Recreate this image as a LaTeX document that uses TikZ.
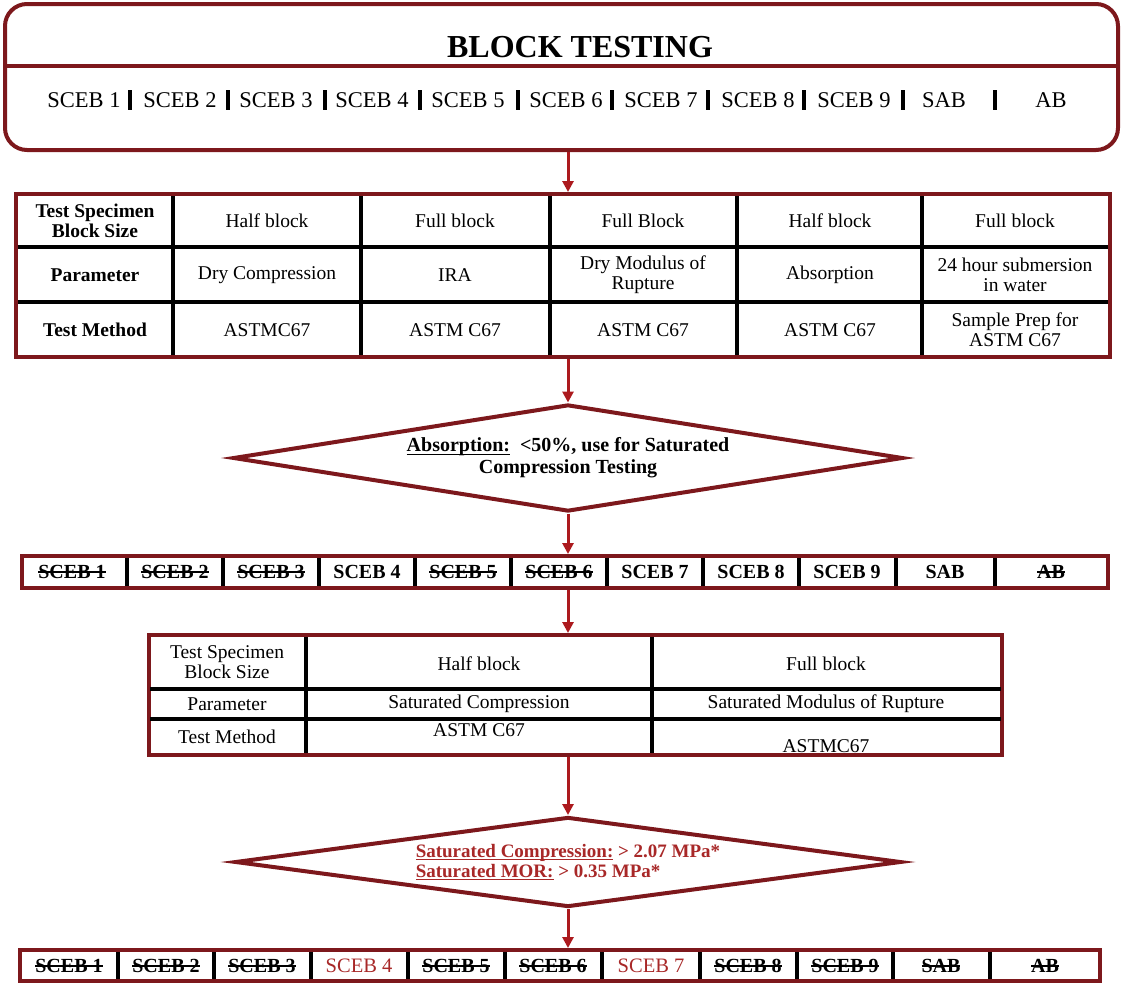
\documentclass[tikz,border=0pt]{standalone}
\usepackage{fontspec}
\setmainfont{Liberation Serif}
\usetikzlibrary{arrows.meta,shapes.geometric}
\definecolor{frameRed}{RGB}{125,24,28}
\definecolor{arrowRed}{RGB}{172,26,30}
\definecolor{textRed}{RGB}{168,40,40}
\newsavebox\markbox
\newcommand{\strk}[1]{\sbox\markbox{#1}\rlap{\rule[0.3em]{\wd\markbox}{1.2pt}}\usebox\markbox}
\newcommand{\uln}[1]{\sbox\markbox{#1}\rlap{\rule[-3pt]{\wd\markbox}{1.2pt}}\usebox\markbox}
\tikzset{
	redframe/.style={draw=frameRed, line width=4pt, fill=white, inner sep=0pt},
	gridline/.style={line width=4pt, black},
	flow/.style={arrowRed, line width=3pt, -{Triangle[length=11pt,width=11pt]}},
	cell/.style={align=center, inner sep=0pt, font=\fontsize{19.5}{20}\selectfont},
	headcell/.style={cell, font=\fontsize{19.5}{20}\selectfont\bfseries},
	blockcell/.style={inner sep=0pt, font=\fontsize{22.5}{24}\selectfont},
	pickcell/.style={inner sep=0pt, font=\fontsize{20}{22}\selectfont\bfseries},
	keptcell/.style={inner sep=0pt, font=\fontsize{20.5}{22}\selectfont, textRed},
	decision/.style={diamond, draw=frameRed, line width=4pt, fill=white, inner sep=0pt}
}

\begin{document}
\begin{tikzpicture}[x=1pt, y=-1pt]
		%%%%% START %%%%%
		\useasboundingbox (0,0) rectangle (1125,983);
		
		\node[redframe, rounded corners=22pt, minimum width=1113pt, minimum height=146pt] (top) at (561.5,77) {};
		\draw[frameRed, line width=4pt] (7,66) -- (1116,66);
		\node[inner sep=0pt, font=\fontsize{32}{34}\selectfont\bfseries] (title) at (580,47) {BLOCK TESTING};
		
		\node[blockcell] (tS1) at (84,100) {SCEB 1};
		\node[blockcell] (tS2) at (180,100) {SCEB 2};
		\node[blockcell] (tS3) at (276,100) {SCEB 3};
		\node[blockcell] (tS4) at (372,100) {SCEB 4};
		\node[blockcell] (tS5) at (468,100) {SCEB 5};
		\node[blockcell] (tS6) at (566,100) {SCEB 6};
		\node[blockcell] (tS7) at (661,100) {SCEB 7};
		\node[blockcell] (tS8) at (758,100) {SCEB 8};
		\node[blockcell] (tS9) at (854,100) {SCEB 9};
		\node[blockcell] (tSAB) at (944,100) {SAB};
		\node[blockcell] (tAB) at (1051,100) {AB};
		\foreach \x in {130,228,325,420,518,612,708,804,903,995}
			\draw[line width=4pt] (\x,90) -- (\x,110);
		
		% first table
		\node[redframe, minimum width=1094pt, minimum height=163pt] (tabA) at (563,275.5) {};
		\draw[gridline] (18,247) -- (1108,247);
		\draw[gridline] (18,302) -- (1108,302);
		\foreach \x in {173,361,550,737,922}
			\draw[gridline] (\x,196) -- (\x,355);
		
		\node[headcell] (a11) at (95,221) {Test Specimen\\Block Size};
		\node[cell] (a12) at (267,221) {Half block};
		\node[cell] (a13) at (455,221) {Full block};
		\node[cell] (a14) at (643,221) {Full Block};
		\node[cell] (a15) at (830,221) {Half block};
		\node[cell] (a16) at (1015,221) {Full block};
		
		\node[headcell] (a21) at (95,275) {Parameter};
		\node[cell] (a22) at (267,275) {Dry Compression};
		\node[cell] (a23) at (455,275) {IRA};
		\node[cell] (a24) at (643,275) {Dry Modulus of\\Rupture};
		\node[cell] (a25) at (830,275) {Absorption};
		\node[cell] (a26) at (1015,275) {24 hour submersion\\in water};
		
		\node[headcell] (a31) at (95,330) {Test Method};
		\node[cell] (a32) at (267,330) {ASTMC67};
		\node[cell] (a33) at (455,330) {ASTM C67};
		\node[cell] (a34) at (643,330) {ASTM C67};
		\node[cell] (a35) at (830,330) {ASTM C67};
		\node[cell] (a36) at (1015,330) {Sample Prep for\\ASTM C67};
		
		% absorption check
		\node[decision, aspect=6.26, minimum width=670pt, minimum height=107pt,
			font=\fontsize{20}{22}\selectfont\bfseries, align=center] (diaA) at (568,458)
			{\uln{Absorption:}\ \ <50\%, use for Saturated\\Compression Testing};
		
		\node[redframe, minimum width=1086pt, minimum height=32pt] (rowA) at (565,572) {};
		\foreach \x in {127,223,319,415,511,607,703,799,896,995}
			\draw[gridline] (\x,558) -- (\x,586);
		\node[pickcell] (b1) at (72,572) {\strk{SCEB 1}};
		\node[pickcell] (b2) at (175,572) {\strk{SCEB 2}};
		\node[pickcell] (b3) at (271,572) {\strk{SCEB 3}};
		\node[pickcell] (b4) at (367,572) {SCEB 4};
		\node[pickcell] (b5) at (463,572) {\strk{SCEB 5}};
		\node[pickcell] (b6) at (559,572) {\strk{SCEB 6}};
		\node[pickcell] (b7) at (655,572) {SCEB 7};
		\node[pickcell] (b8) at (751,572) {SCEB 8};
		\node[pickcell] (b9) at (847,572) {SCEB 9};
		\node[pickcell] (bSAB) at (945,572) {SAB};
		\node[pickcell] (bAB) at (1051,572) {\strk{AB}};
		
		% second table
		\node[redframe, minimum width=853pt, minimum height=120pt] (tabB) at (575.5,695) {};
		\draw[gridline] (150,689) -- (1001,689);
		\draw[gridline] (150,719) -- (1001,719);
		\foreach \x in {306,652}
			\draw[gridline] (\x,637) -- (\x,753);
		
		\node[cell] (c11) at (227,662) {Test Specimen\\Block Size};
		\node[cell] (c12) at (479,664) {Half block};
		\node[cell] (c13) at (826,664) {Full block};
		\node[cell] (c21) at (227,704) {Parameter};
		\node[cell] (c22) at (479,704) {Saturated Compression};
		\node[cell] (c23) at (826,704) {Saturated Modulus of Rupture};
		\node[cell] (c31) at (227,737) {Test Method};
		\node[cell] (c32) at (479,730) {ASTM C67};
		\node[cell] (c33) at (826,746) {ASTMC67};
		
		% strength check
		\node[decision, aspect=7.4, minimum width=666pt, minimum height=90pt,
			font=\fontsize{19}{20}\selectfont\bfseries, align=left, text=textRed] (diaB) at (568,862)
			{\uln{Saturated Compression:} > 2.07 MPa*\\\uln{Saturated MOR:} > 0.35 MPa*};
		
		\node[redframe, minimum width=1080pt, minimum height=31pt] (rowB) at (560,965.5) {};
		\foreach \x in {118,214,311,408,505,602,700,797,893,990}
			\draw[gridline] (\x,952) -- (\x,979);
		\node[pickcell] (d1) at (69,966) {\strk{SCEB 1}};
		\node[pickcell] (d2) at (166,966) {\strk{SCEB 2}};
		\node[pickcell] (d3) at (262,966) {\strk{SCEB 3}};
		\node[keptcell] (d4) at (359,966) {SCEB 4};
		\node[pickcell] (d5) at (456,966) {\strk{SCEB 5}};
		\node[pickcell] (d6) at (553,966) {\strk{SCEB 6}};
		\node[keptcell] (d7) at (651,966) {SCEB 7};
		\node[pickcell] (d8) at (748,966) {\strk{SCEB 8}};
		\node[pickcell] (d9) at (845,966) {\strk{SCEB 9}};
		\node[pickcell] (dSAB) at (941,966) {\strk{SAB}};
		\node[pickcell] (dAB) at (1045,966) {\strk{AB}};
		
		% arrows
		\draw[flow] (top.south -| diaA.north) -- (tabA.north -| diaA.north);
		\draw[flow] (tabA.south -| diaA.north) -- (diaA.north);
		\draw[flow] (diaA.south) -- (rowA.north -| diaA.south);
		\draw[flow] (rowA.south -| diaA.south) -- (tabB.north -| diaA.south);
		\draw[flow] (tabB.south -| diaB.north) -- (diaB.north);
		\draw[flow] (diaB.south) -- (rowB.north -| diaB.south);
		
		%%%%% END %%%%%
\end{tikzpicture}
\end{document}
